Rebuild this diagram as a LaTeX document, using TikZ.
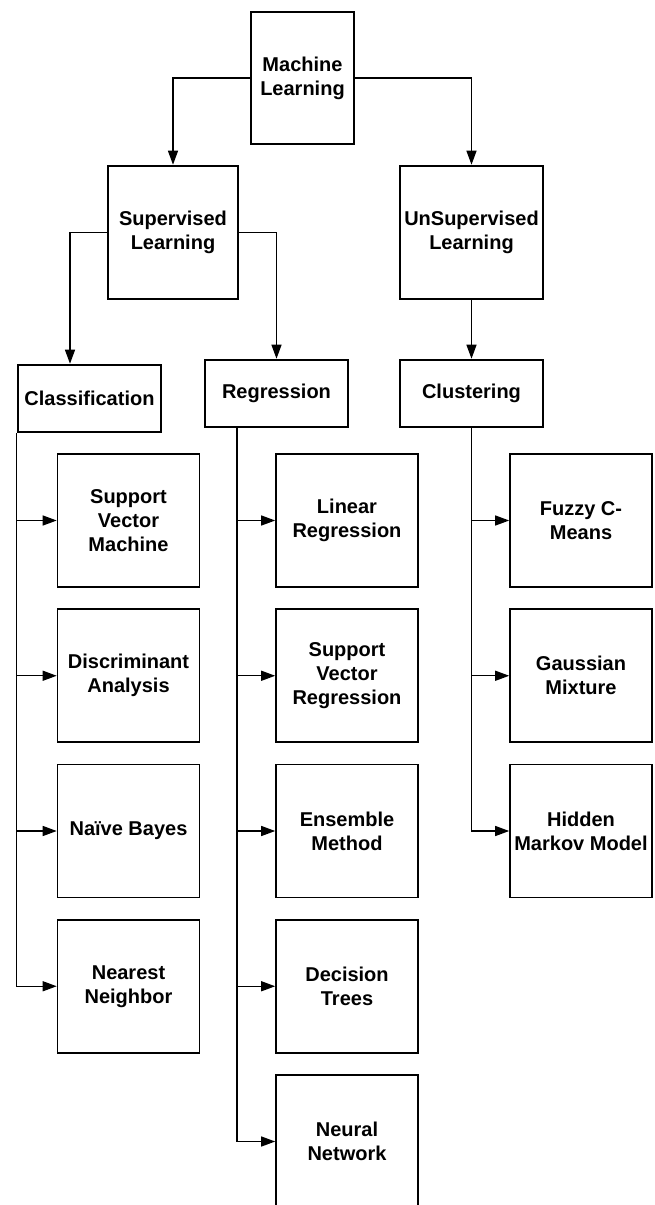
\documentclass[tikz,border=0pt]{standalone}
\usepackage{fontspec}
\setmainfont{Liberation Sans}
\usetikzlibrary{arrows.meta}
\begin{document}
\begin{tikzpicture}[x=1pt,y=-1pt,
    font=\fontsize{20}{24}\selectfont\bfseries,
    topbox/.style={draw,line width=2.6pt,inner sep=0,align=center},
    leaf/.style={draw,line width=1.6pt,inner sep=0,align=center,
      minimum width=142pt,minimum height=133pt},
    arr/.style={-{Triangle[length=14pt,width=10pt]},line width=1.3pt}]
    \useasboundingbox (0,0) rectangle (655,1205);

    \node[topbox,minimum width=103pt,minimum height=132pt](ml) at (302.5,78) {Machine\\Learning};
    \node[topbox,minimum width=130pt,minimum height=133pt](sup) at (173,232.5) {Supervised\\Learning};
    \node[topbox,minimum width=143pt,minimum height=133pt](unsup) at (471.5,232.5) {UnSupervised\\Learning};
    \node[topbox,minimum width=143pt,minimum height=67pt](cls) at (89.5,398.5) {Classification};
    \node[topbox,minimum width=143pt,minimum height=67pt](reg) at (276.5,393.5) {Regression};
    \node[topbox,minimum width=143pt,minimum height=67pt](clu) at (471.5,393.5) {Clustering};

    \draw[arr] (ml.west) -| (sup.north);
    \draw[arr] (ml.east) -| (unsup.north);
    \draw[arr] (sup.west) -| ([xshift=-19.5pt]cls.north);
    \draw[arr] (sup.east) -| (reg.north);
    \draw[arr] (unsup) -- (clu);

    \foreach \t/\lbl [evaluate=\t as \y using (365.25 + 155.25*\t)] in
        {1/{Support\\Vector\\Machine}, 2/{Discriminant\\Analysis}, 3/{Naïve Bayes}, 4/{Nearest\\Neighbor}} {
      \node[leaf](c\t) at (128.5,\y) {\lbl};
      \draw[arr] (cls.south west) |- (c\t.west);
    }

    \foreach \t/\lbl [evaluate=\t as \y using (365.25 + 155.25*\t)] in
        {1/{Linear\\Regression}, 2/{Support\\Vector\\Regression}, 3/{Ensemble\\Method}, 4/{Decision\\Trees}, 5/{Neural\\Network}} {
      \node[leaf](r\t) at (347,\y) {\lbl};
      \draw[arr] ([xshift=-39.5pt]reg.south) |- (r\t.west);
    }

    \foreach \t/\lbl [evaluate=\t as \y using (365.25 + 155.25*\t)] in
        {1/{Fuzzy C-\\Means}, 2/{Gaussian\\Mixture}, 3/{Hidden\\Markov Model}} {
      \node[leaf](u\t) at (581,\y) {\lbl};
      \draw[arr] (clu.south) |- (u\t.west);
    }
  \end{tikzpicture}
\end{document}
